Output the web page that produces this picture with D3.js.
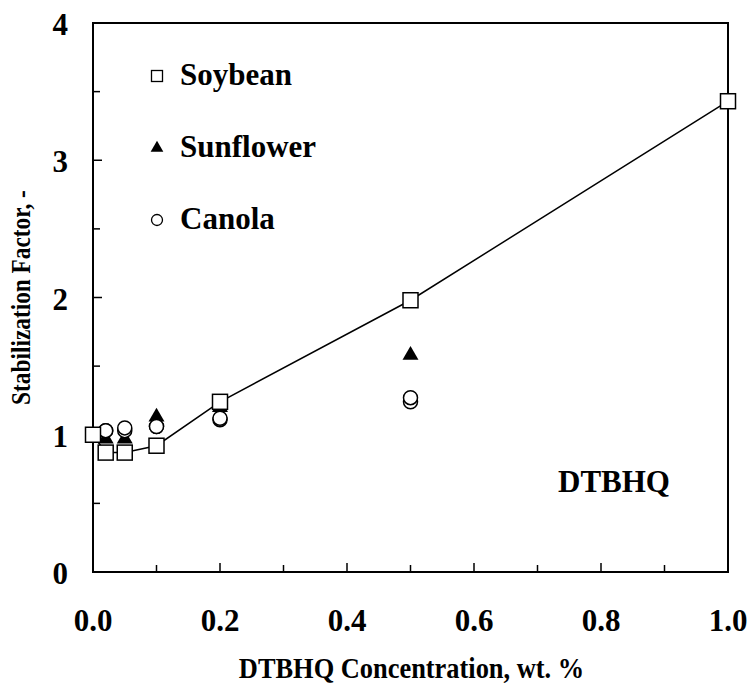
<!DOCTYPE html>
<html>
<head>
<meta charset="utf-8">
<script src="https://cdn.jsdelivr.net/npm/d3@7"></script>
<style>
  body { margin: 0; background: #fff; }
</style>
</head>
<body>
<div class="chart"></div>
<script>
// values
const conc = [0, 0.02, 0.05, 0.1, 0.2, 0.5, 1.0]
const soybean = [1.0, 0.87, 0.87, 0.92, 1.24, 1.98, 3.43]
const sunflower = [1.0, 0.97, 0.97, 1.13, 1.20, 1.58]
const canolaA = [1.0, 1.03, 1.05, 1.06, 1.12, 1.27]
const canolaB = [1.0, 1.03, 1.03, 1.06, 1.11, 1.24]
const xTicks = [0, 0.2, 0.4, 0.6, 0.8, 1.0]
const yTicks = [0, 1, 2, 3, 4]
const legendItems = ["Soybean", "Sunflower", "Canola"]

const margin = {top: 23, right: 24, bottom: 112, left: 93}
const W = 752, H = 684
const width = W - margin.left - margin.right
const height = H - margin.top - margin.bottom

const svg = d3.select(".chart").append("svg")
    .attr("width", W)
    .attr("height", H)
    .attr("font-family", "'Liberation Serif', 'DejaVu Serif', serif")
    .attr("font-weight", "bold")
  .append("g")
    .attr("transform", `translate(${margin.left},${margin.top})`)

const x = d3.scaleLinear().domain([0, 1]).range([0, width])
const y = d3.scaleLinear().domain([0, 4]).range([height, 0])

// frame
svg.append("rect")
    .attr("width", width).attr("height", height)
    .attr("fill", "none").attr("stroke", "#000").attr("stroke-width", 2)

// inward ticks, minor every 0.1 / 0.5
const xAll = d3.range(0, 11).map(i => i / 10)
svg.selectAll(".xt").data(xAll).join("line")
    .attr("x1", d => x(d)).attr("x2", d => x(d))
    .attr("y1", height).attr("y2", (d, i) => height - (i % 2 === 0 ? 9 : 7))
    .attr("stroke", "#000").attr("stroke-width", 1.5)
const yAll = d3.range(0, 9).map(i => i / 2)
svg.selectAll(".yt").data(yAll).join("line")
    .attr("x1", 0).attr("x2", (d, i) => i % 2 === 0 ? 9 : 7)
    .attr("y1", d => y(d)).attr("y2", d => y(d))
    .attr("stroke", "#000").attr("stroke-width", 1.5)

svg.selectAll(".xl").data(xTicks).join("text")
    .attr("x", d => x(d)).attr("y", height + 59)
    .attr("text-anchor", "middle").attr("font-size", 31)
    .text(d => d.toFixed(1))
svg.selectAll(".yl").data(yTicks).join("text")
    .attr("x", -25).attr("y", d => y(d) + 12)
    .attr("text-anchor", "end").attr("font-size", 31)
    .text(d => d)

// axis titles are a bit condensed in the original
svg.append("text")
    .attr("transform", `translate(${width / 2 + 1},${height + 106}) scale(0.88,1)`)
    .attr("text-anchor", "middle").attr("font-size", 30)
    .text("DTBHQ Concentration, wt. %")
svg.append("text")
    .attr("transform", `translate(${-63},${height / 2}) rotate(-90) scale(0.88,1)`)
    .attr("text-anchor", "middle").attr("font-size", 26.5)
    .text("Stabilization Factor, -")

// trend line through soybean points
const pts = conc.map((c, i) => [c, soybean[i]])
svg.append("path")
    .attr("d", d3.line().x(d => x(d[0])).y(d => y(d[1]))(pts))
    .attr("fill", "none").attr("stroke", "#000").attr("stroke-width", 1.5)

const tri = d3.symbol().type(d3.symbolTriangle).size(110)

function circles(vals) {
  svg.append("g").selectAll("circle").data(vals).join("circle")
      .attr("cx", (d, i) => x(conc[i])).attr("cy", d => y(d)).attr("r", 7)
      .attr("fill", "#fff").attr("stroke", "#000").attr("stroke-width", 1.5)
}
// sunflower
svg.append("g").selectAll("path").data(sunflower).join("path")
    .attr("d", tri)
    .attr("transform", (d, i) => `translate(${x(conc[i])},${y(d)})`)
    .attr("fill", "#000")
circles(canolaB)
circles(canolaA)
// soybean
svg.append("g").selectAll("rect").data(soybean).join("rect")
    .attr("x", (d, i) => x(conc[i]) - 7.5).attr("y", d => y(d) - 7.5)
    .attr("width", 15).attr("height", 15)
    .attr("fill", "#fff").attr("stroke", "#000").attr("stroke-width", 1.5)

// legend
const lg = svg.append("g").attr("transform", "translate(64,53)")
legendItems.forEach((name, i) => {
  const g = lg.append("g").attr("transform", `translate(0,${i * 72})`)
  if (i === 0) g.append("rect").attr("x", -5.5).attr("y", -5.5).attr("width", 11).attr("height", 11)
      .attr("fill", "#fff").attr("stroke", "#000").attr("stroke-width", 1.3)
  if (i === 1) g.append("path").attr("d", d3.symbol().type(d3.symbolTriangle).size(70)).attr("fill", "#000")
  if (i === 2) g.append("circle").attr("r", 5.5).attr("fill", "#fff").attr("stroke", "#000").attr("stroke-width", 1.3)
  g.append("text").attr("x", 23).attr("y", 9).attr("font-size", 31).text(name)
})

svg.append("text")
    .attr("x", 465).attr("y", 469).attr("font-size", 31)
    .text("DTBHQ")
</script>
</body>
</html>
